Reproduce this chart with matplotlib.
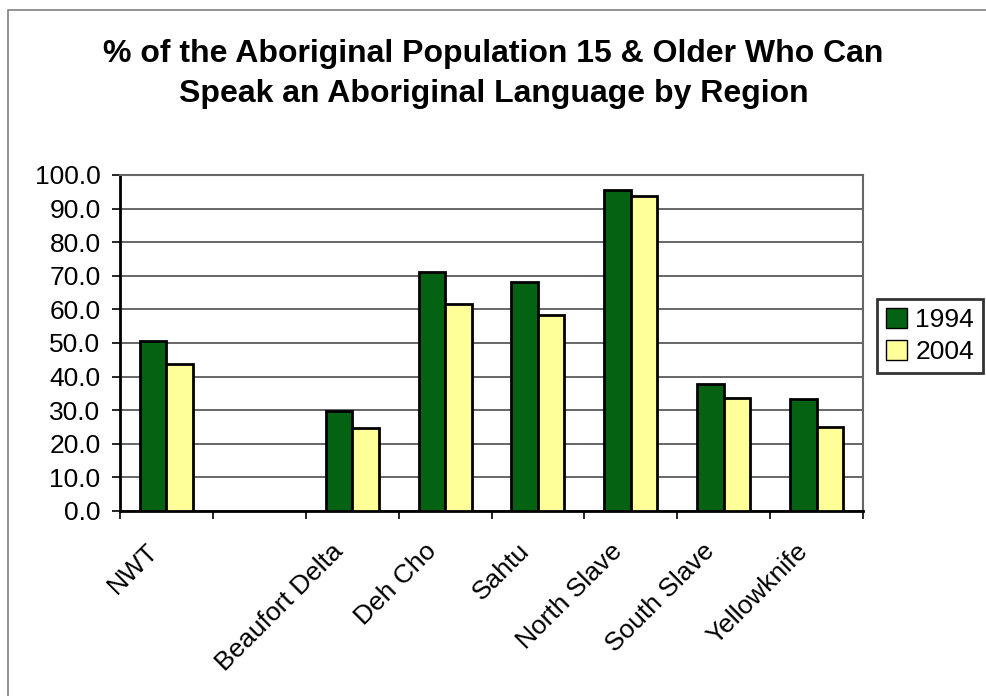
import numpy as np
import matplotlib
matplotlib.use("Agg")
import matplotlib.pyplot as plt
from matplotlib.patches import Rectangle, Patch
from matplotlib.transforms import ScaledTranslation

plt.rcParams["font.family"] = ["Liberation Sans", "DejaVu Sans"]

regions = ["NWT", "", "Beaufort Delta", "Deh Cho", "Sahtu",
           "North Slave", "South Slave", "Yellowknife"]
pct_1994 = [50.7, np.nan, 29.8, 71.0, 68.2, 95.5, 37.7, 33.3]
pct_2004 = [43.7, np.nan, 24.6, 61.5, 58.3, 93.7, 33.7, 25.0]
series_labels = ["1994", "2004"]
title = "% of the Aboriginal Population 15 & Older Who Can\nSpeak an Aboriginal Language by Region"

green = "#036312"
yellow = "#FFFF99"

fig = plt.figure(figsize=(9.87, 6.96), dpi=100)
ax = fig.add_axes([120 / 987, 1 - 511 / 696, (863 - 120) / 987, (511 - 175) / 696])

# outer chart border (only left/top visible in the reference)
fig.patches.append(Rectangle((8 / 987, -0.1), 1.2, 1 - 10 / 696 + 0.1,
                             transform=fig.transFigure, fill=False,
                             edgecolor="#808080", linewidth=1.2))

x = np.arange(len(regions))
w = 1 / 3.5
ax.bar(x - w / 2, pct_1994, w, color=green, edgecolor="black", linewidth=2,
       zorder=3, label=series_labels[0])
ax.bar(x + w / 2, pct_2004, w, color=yellow, edgecolor="black", linewidth=2,
       zorder=3, label=series_labels[1])

ax.set_xlim(-0.5, len(regions) - 0.5)
ax.set_ylim(0, 100)
ax.set_yticks(np.arange(0, 101, 10))
ax.set_yticklabels([f"{v:.1f}" for v in np.arange(0, 101, 10)])
ax.yaxis.grid(True, color="#666666", linewidth=1.4, zorder=0)
ax.set_axisbelow(True)

ax.set_xticks(x)
ax.set_xticklabels(regions, rotation=45, ha="right", rotation_mode="anchor")
ax.set_xticks(np.arange(-0.5, len(regions)), minor=True)
ax.tick_params(axis="x", which="major", length=0, pad=20, labelsize=19)
ax.tick_params(axis="x", which="minor", length=6, width=1.2, direction="out")
ax.tick_params(axis="y", length=6, width=1.2, direction="out", labelsize=19, pad=8)
shift = ScaledTranslation(-21 / 100, 0, fig.dpi_scale_trans)
for lbl in ax.get_xticklabels():
    lbl.set_transform(lbl.get_transform() + shift)

for side in ["left", "bottom"]:
    ax.spines[side].set_linewidth(2)
    ax.spines[side].set_color("black")
for side in ["top", "right"]:
    ax.spines[side].set_linewidth(1.5)
    ax.spines[side].set_color("#666666")

fig.text(0.5, 1 - 74 / 696, title, ha="center", va="center", fontsize=23,
         fontweight="bold", linespacing=1.45)

handles = [Patch(facecolor=green, edgecolor="black", linewidth=1),
           Patch(facecolor=yellow, edgecolor="black", linewidth=1)]
leg = fig.legend(handles, series_labels, loc="center left",
                 bbox_to_anchor=(877 / 987, 1 - 336 / 696), fontsize=19,
                 frameon=True, fancybox=False, edgecolor="black",
                 handlelength=0.8, handleheight=0.8, handletextpad=0.3,
                 borderpad=0.35, labelspacing=0.3, borderaxespad=0)
leg.get_frame().set_linewidth(2)

fig.savefig("out.png", dpi=100)
